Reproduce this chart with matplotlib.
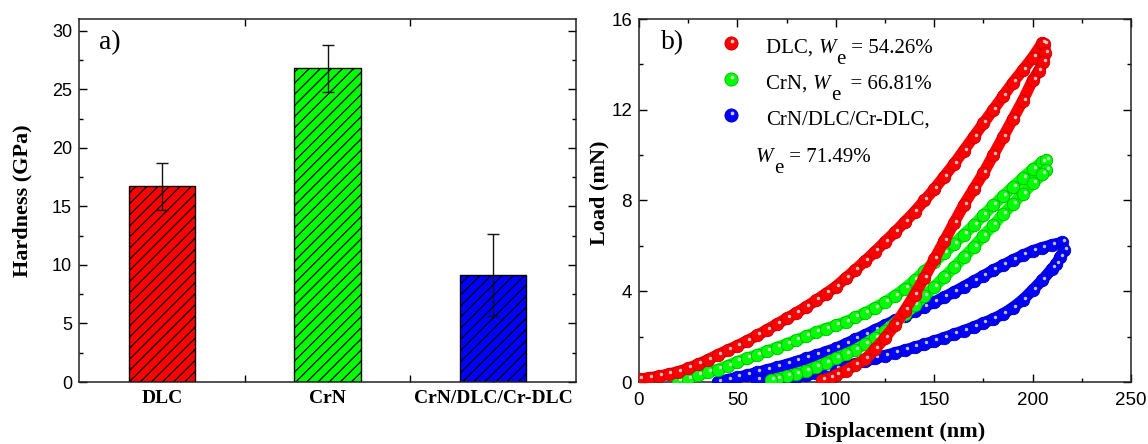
import matplotlib
matplotlib.use("Agg")
import matplotlib.pyplot as plt
from matplotlib.ticker import MultipleLocator, FixedLocator
from matplotlib.transforms import offset_copy

plt.rcParams['hatch.linewidth'] = 0.9

# ---------------- data: panel a ----------------
categories = ['DLC', 'CrN', 'CrN/DLC/Cr-DLC']
hardness = [16.7, 26.8, 9.1]
hardness_err = [2.0, 2.0, 3.5]
bar_colors = ['#ff0000', '#00ff00', '#0000ff']

# ---------------- data: panel b (displacement nm, load mN) ----------------
dlc_load_x = [0, 5, 10, 15, 20, 25, 30, 35, 40, 45, 50, 55, 60, 65, 70, 75, 80, 85, 90, 95, 100,
              105, 110, 115, 120, 125, 130, 135, 140, 145, 150, 155, 160, 165, 170, 175, 180,
              185, 190, 195, 200, 205]
dlc_load_y = [0.12, 0.18, 0.25, 0.35, 0.45, 0.6, 0.78, 0.98, 1.2, 1.4, 1.6, 1.82, 2.05, 2.3, 2.55,
              2.8, 3.05, 3.32, 3.6, 3.9, 4.2, 4.58, 4.95, 5.35, 5.75, 6.18, 6.6, 7.05, 7.5, 8.0,
              8.5, 9.05, 9.6, 10.2, 10.8, 11.4, 12.0, 12.6, 13.2, 13.75, 14.3, 14.95]
dlc_unload_x = [206, 206.5, 205.5, 203, 200, 195, 190, 185, 180, 175, 170, 165, 160, 155, 150, 145,
                140, 135, 130, 125, 120, 115, 110, 105, 100, 97, 93]
dlc_unload_y = [14.9, 14.5, 14.1, 13.7, 13.3, 12.4, 11.6, 10.8, 10.0, 9.2, 8.5, 7.8, 7.0, 6.2, 5.4,
                4.6, 3.85, 3.15, 2.5, 1.95, 1.45, 1.0, 0.75, 0.5, 0.3, 0.18, 0.08]

crn_load_x = [20, 25, 30, 35, 40, 45, 50, 55, 60, 65, 70, 75, 80, 85, 90, 95, 100, 105, 110, 115,
              120, 125, 130, 135, 140, 145, 150, 155, 160, 165, 170, 175, 180, 185, 190, 195, 200,
              205, 207]
crn_load_y = [0.02, 0.15, 0.3, 0.42, 0.55, 0.72, 0.9, 1.05, 1.2, 1.36, 1.52, 1.68, 1.85, 2.02, 2.2,
              2.35, 2.5, 2.65, 2.85, 3.05, 3.28, 3.52, 3.8, 4.12, 4.48, 4.88, 5.28, 5.68, 6.08,
              6.5, 6.9, 7.35, 7.78, 8.2, 8.6, 9.0, 9.38, 9.7, 9.78]
crn_unload_x = [207, 205, 200, 195, 190, 185, 180, 175, 170, 165, 160, 155, 150, 145, 140, 135,
                130, 125, 120, 115, 110, 105, 100, 95, 90, 85, 80, 75, 70, 67]
crn_unload_y = [9.35, 9.15, 8.75, 8.3, 7.85, 7.4, 6.9, 6.45, 5.95, 5.5, 5.05, 4.62, 4.2, 3.78,
                3.38, 2.98, 2.6, 2.25, 1.95, 1.68, 1.42, 1.22, 1.05, 0.85, 0.66, 0.5, 0.37, 0.25,
                0.14, 0.08]

ml_load_x = [40, 45, 50, 55, 60, 65, 70, 75, 80, 85, 90, 95, 100, 105, 110, 115, 120, 125, 130,
             135, 140, 145, 150, 155, 160, 165, 170, 175, 180, 185, 190, 195, 200, 205, 210, 215]
ml_load_y = [0.0, 0.1, 0.2, 0.3, 0.42, 0.53, 0.65, 0.77, 0.9, 1.04, 1.18, 1.33, 1.48, 1.68, 1.88,
             2.08, 2.3, 2.5, 2.72, 2.92, 3.12, 3.32, 3.52, 3.74, 3.96, 4.2, 4.44, 4.68, 4.93,
             5.15, 5.38, 5.58, 5.78, 5.92, 6.05, 6.15]
ml_unload_x = [216, 214, 212, 210, 205, 200, 195, 190, 185, 180, 175, 170, 165, 160, 155, 150,
               145, 140, 135, 130, 125, 120, 115, 110, 105, 100, 95, 90, 85, 80, 75, 70, 65, 60]
ml_unload_y = [5.8, 5.5, 5.2, 5.0, 4.5, 4.05, 3.62, 3.28, 3.0, 2.78, 2.6, 2.42, 2.26, 2.1, 1.95,
               1.8, 1.66, 1.53, 1.4, 1.28, 1.16, 1.04, 0.92, 0.8, 0.68, 0.57, 0.47, 0.38, 0.3,
               0.23, 0.17, 0.12, 0.09, 0.07]

legend_names = ['DLC, ', 'CrN, ', 'CrN/DLC/Cr-DLC,']
legend_we = [' = 54.26%', '  = 66.81%', None]
extra_we = ' = 71.49%'

SANS = 'Liberation Sans'
SERIF = 'Liberation Serif'

fig = plt.figure(figsize=(11.48, 4.44), dpi=100)
W, H = 1148, 444
ax1 = fig.add_axes([79 / W, 62 / H, 497 / W, 363 / H])
ax2 = fig.add_axes([639 / W, 62 / H, 492 / W, 363 / H])

for ax in (ax1, ax2):
    for s in ax.spines.values():
        s.set_linewidth(1.1)
        s.set_color('#222222')

# ---------------- panel a ----------------
xpos = list(range(len(categories)))
ax1.bar(xpos, hardness, width=0.4, color=bar_colors, edgecolor='black', linewidth=1.0,
        hatch='///', zorder=2)
ax1.errorbar(xpos, hardness, yerr=hardness_err, fmt='none', ecolor='#111111', elinewidth=1.0,
             capsize=4.5, capthick=1.0, zorder=3)
ax1.set_xlim(-0.5, 2.5)
ax1.set_ylim(0, 31)
ax1.yaxis.set_major_locator(MultipleLocator(5))
ax1.yaxis.set_minor_locator(MultipleLocator(2.5))
ax1.set_xticks(xpos)
ax1.set_xticklabels(categories, fontfamily=SERIF, fontweight='bold', fontsize=14)
ax1.xaxis.set_minor_locator(FixedLocator([0.5, 1.5]))
ax1.tick_params(axis='both', which='both', direction='in', right=True, top=True)
ax1.tick_params(axis='x', which='major', top=False, length=5, width=1, pad=6)
ax1.tick_params(axis='x', which='minor', length=5, width=1)
ax1.tick_params(axis='y', which='major', length=6, width=1, pad=5, labelsize=13)
ax1.tick_params(axis='y', which='minor', length=3, width=1)
for lab in ax1.get_yticklabels():
    lab.set_fontfamily(SANS)
ax1.set_ylabel('Hardness (GPa)', fontfamily=SERIF, fontweight='bold', fontsize=16)
ax1.yaxis.set_label_coords(-0.094, 0.5)
ax1.text(0.04, 0.935, 'a)', transform=ax1.transAxes, fontfamily=SERIF, fontsize=20,
         va='center', ha='left')

# ---------------- panel b ----------------
def ball_curve(ax, xs, ys, color, edge, z):
    ax.plot(xs, ys, '-', color=color, lw=8.2, solid_capstyle='round', zorder=z)
    ax.plot(xs, ys, 'o', ms=9.0, mfc=color, mec=edge, mew=0.6, ls='none', zorder=z + 0.1)
    tr = offset_copy(ax.transData, fig=fig, x=1.4, y=1.5, units='points')
    ax.plot(xs, ys, 'o', ms=2.5, mfc='white', mec='none', alpha=0.75, ls='none',
            transform=tr, zorder=z + 0.2)

ball_curve(ax2, ml_load_x, ml_load_y, '#0000ff', '#0000b0', 3)
ball_curve(ax2, ml_unload_x, ml_unload_y, '#0000ff', '#0000b0', 3)
ball_curve(ax2, crn_load_x, crn_load_y, '#00ff00', '#00b400', 4)
ball_curve(ax2, crn_unload_x, crn_unload_y, '#00ff00', '#00b400', 4)
ball_curve(ax2, dlc_load_x, dlc_load_y, '#ff0000', '#c00000', 5)
ball_curve(ax2, dlc_unload_x, dlc_unload_y, '#ff0000', '#c00000', 5)

ax2.set_xlim(0, 250)
ax2.set_ylim(0, 16)
ax2.xaxis.set_major_locator(MultipleLocator(50))
ax2.xaxis.set_minor_locator(MultipleLocator(25))
ax2.yaxis.set_major_locator(MultipleLocator(4))
ax2.yaxis.set_minor_locator(MultipleLocator(2))
ax2.tick_params(axis='both', which='both', direction='in', right=True, top=True)
ax2.tick_params(axis='both', which='major', length=6, width=1, labelsize=13.5)
ax2.tick_params(axis='both', which='minor', length=3, width=1)
ax2.tick_params(axis='x', which='major', pad=7)
ax2.tick_params(axis='y', which='major', pad=5)
for lab in ax2.get_xticklabels() + ax2.get_yticklabels():
    lab.set_fontfamily(SANS)
ax2.set_xlabel('Displacement (nm)', fontfamily=SERIF, fontweight='bold', fontsize=16)
ax2.xaxis.set_label_coords(0.52, -0.11)
ax2.set_ylabel('Load (mN)', fontfamily=SERIF, fontweight='bold', fontsize=16)
ax2.yaxis.set_label_coords(-0.061, 0.52)
ax2.text(0.045, 0.935, 'b)', transform=ax2.transAxes, fontfamily=SERIF, fontsize=20,
         va='center', ha='left')


def we_text(ax, x, y, prefix, suffix, size=15):
    """Write prefix + italic W + lowered 'e' + suffix, chained by artist bboxes."""
    kw = dict(fontfamily=SERIF, fontsize=size)
    if prefix:
        t0 = ax.text(x, y, prefix, transform=ax.transAxes, va='baseline', ha='left', **kw)
        tw = ax.annotate('W', xy=(1, 0), xycoords=(t0, t0), va='bottom', ha='left',
                         fontstyle='italic', **kw)
    else:
        t0 = ax.text(x, y, 'W', transform=ax.transAxes, va='baseline', ha='left',
                     fontstyle='italic', **kw)
        tw = t0
    te = ax.annotate('e', xy=(1, 0), xycoords=(tw, t0), xytext=(0.5, -8),
                     textcoords='offset points', va='bottom', ha='left', **kw)
    ax.annotate(suffix, xy=(1, 0), xycoords=(te, t0), xytext=(0, 0),
                textcoords='offset points', va='bottom', ha='left', **kw)


# legend (manual)
leg_colors = ['#ff0000', '#00ff00', '#0000ff']
leg_edges = ['#c00000', '#00b400', '#0000b0']
rows = [0.934, 0.835, 0.736]
for c, e, yy, name, we in zip(leg_colors, leg_edges, rows, legend_names, legend_we):
    ax2.plot([0.186], [yy], 'o', ms=9.5, mfc=c, mec=e, mew=0.6, transform=ax2.transAxes,
             clip_on=False, zorder=6)
    tr = offset_copy(ax2.transAxes, fig=fig, x=1.4, y=1.6, units='points')
    ax2.plot([0.186], [yy], 'o', ms=2.7, mfc='white', mec='none', alpha=0.8, transform=tr,
             clip_on=False, zorder=6.1)
    if we is None:
        ax2.text(0.258, yy - 0.027, name, transform=ax2.transAxes, fontfamily=SERIF,
                 fontsize=15, va='baseline', ha='left')
    else:
        we_text(ax2, 0.258, yy - 0.027, name, we)
we_text(ax2, 0.238, 0.633 - 0.027, '', extra_we)

fig.savefig('out.png', dpi=100)
